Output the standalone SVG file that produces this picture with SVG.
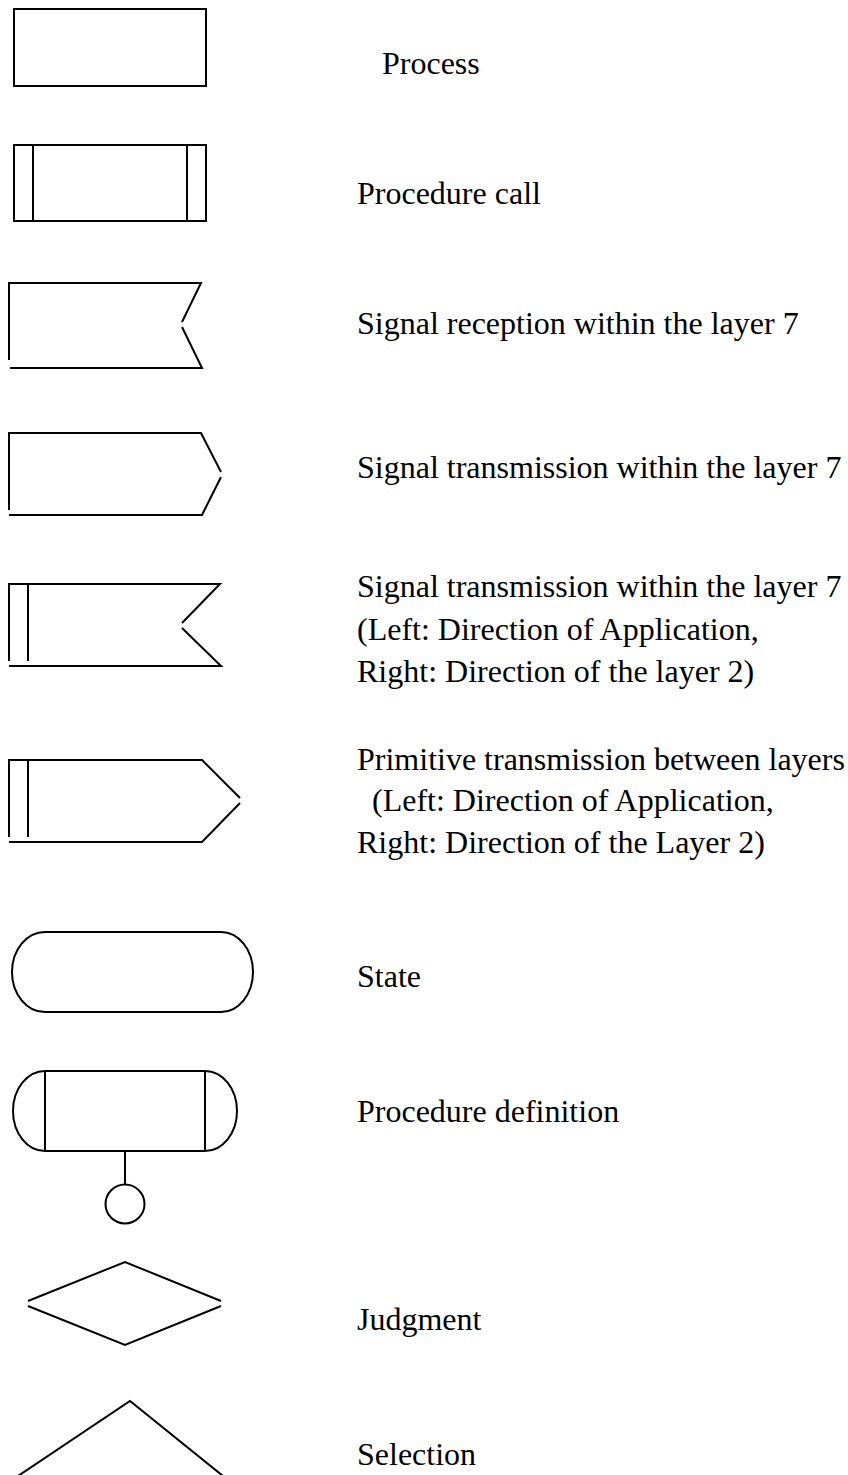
<svg xmlns="http://www.w3.org/2000/svg" width="848" height="1475" viewBox="0 0 848 1475">
<style>
.s{fill:none;stroke:#000;stroke-width:2;stroke-linecap:butt;stroke-linejoin:miter}
.t{font-family:"Liberation Serif","Times New Roman",serif;font-size:32px;fill:#000}
</style>
<rect width="848" height="1475" fill="#fff"/>
<g id="process">
<rect class="s" x="14" y="9" width="192" height="77"/>
<text class="t" x="382" y="74">Process</text>
</g>
<g id="procedure-call">
<rect class="s" x="14" y="145" width="192" height="76"/>
<line class="s" x1="33" y1="145" x2="33" y2="221"/>
<line class="s" x1="187" y1="145" x2="187" y2="221"/>
<text class="t" x="357" y="204">Procedure call</text>
</g>
<g id="signal-reception">
<polyline class="s" points="9,360 9,283 201,283 182,322"/>
<polyline class="s" points="182,327 202,368 10,368"/>
<text class="t" x="357" y="334">Signal reception within the layer 7</text>
</g>
<g id="signal-transmission">
<polyline class="s" points="9,510 9,433 201,433 221,472"/>
<polyline class="s" points="221,477 202,515 9,515"/>
<text class="t" x="357" y="478">Signal transmission within the layer 7</text>
</g>
<g id="signal-transmission-dir">
<polyline class="s" points="9,661 9,584 220,584 182,623"/>
<polyline class="s" points="182,628 221,666 9,666"/>
<line class="s" x1="28" y1="584" x2="28" y2="661"/>
<text class="t" x="357" y="597">Signal transmission within the layer 7</text>
<text class="t" x="357" y="640">(Left: Direction of Application,</text>
<text class="t" x="357" y="682">Right: Direction of the layer 2)</text>
</g>
<g id="primitive-transmission">
<polyline class="s" points="9,837 9,760 202,760 240,798"/>
<polyline class="s" points="240,803 202,842 9,842"/>
<line class="s" x1="28" y1="760" x2="28" y2="837"/>
<text class="t" x="357" y="770">Primitive transmission between layers</text>
<text class="t" x="372" y="811">(Left: Direction of Application,</text>
<text class="t" x="357" y="853">Right: Direction of the Layer 2)</text>
</g>
<g id="state">
<path class="s" d="M45,932 H221 A32,40 0 0 1 221,1012 H45 A33,40 0 0 1 45,932 Z"/>
<text class="t" x="357" y="987">State</text>
</g>
<g id="procedure-definition">
<path class="s" d="M45,1071 H205 A32,40 0 0 1 205,1151 H45 A32,40 0 0 1 45,1071 Z"/>
<line class="s" x1="45" y1="1071" x2="45" y2="1151"/>
<line class="s" x1="205" y1="1071" x2="205" y2="1151"/>
<line class="s" x1="125" y1="1151" x2="125" y2="1185"/>
<circle class="s" cx="125" cy="1204" r="19.5"/>
<text class="t" x="357" y="1122">Procedure definition</text>
</g>
<g id="judgment">
<polyline class="s" points="28,1301 125,1262 221,1301"/>
<polyline class="s" points="28,1306 125,1345 221,1306"/>
<text class="t" x="357" y="1330">Judgment</text>
</g>
<g id="selection">
<polyline class="s" points="18,1476 130,1401 223,1476"/>
<text class="t" x="357" y="1465">Selection</text>
</g>
<g id="connectors"></g>
</svg>
